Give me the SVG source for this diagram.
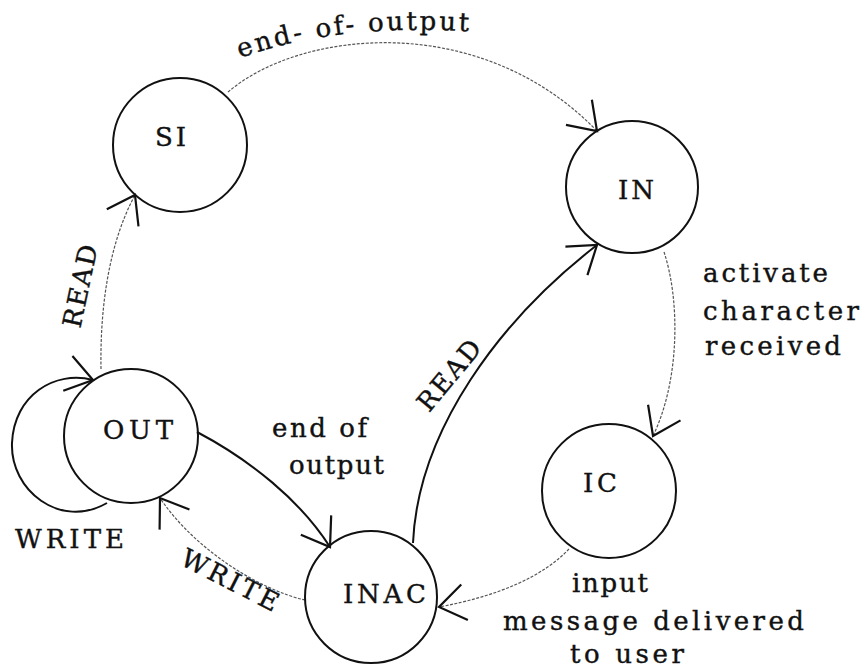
<svg xmlns="http://www.w3.org/2000/svg" width="861" height="669" viewBox="0 0 861 669">
<style>
.bg{fill:#fff}
.node{fill:none;stroke:#111;stroke-width:2}
.lbl{font-family:"DejaVu Serif","Liberation Serif",serif;font-size:26px;fill:#111;stroke:#111;stroke-width:0.4}
.nlbl{font-family:"DejaVu Serif","Liberation Serif",serif;font-size:26px;fill:#111;stroke:#111;stroke-width:0.4}
.solid{fill:none;stroke:#111;stroke-width:2;marker-end:url(#arr)}
.faint{fill:none;stroke:#555;stroke-width:1.2;stroke-dasharray:3 1.5;marker-end:url(#arr)}
</style>
<defs>
<marker id="arr" markerUnits="userSpaceOnUse" markerWidth="40" markerHeight="40" viewBox="-35 -20 40 40" refX="0" refY="0" orient="auto" overflow="visible">
<path d="M -26 -18 L 0 0 L -26 18" fill="none" stroke="#111" stroke-width="2.2"/>
</marker>
<path id="topArc" d="M 240 58 Q 340 22 478 32"/>
</defs>
<rect class="bg" x="0" y="0" width="861" height="669"/>

<g id="connectors">
<path id="e-si-in" class="faint" d="M 228 92 C 300 30, 480 10, 597 131"/>
<path id="e-in-ic" class="faint" d="M 664 252 C 680 300, 680 380, 653 436"/>
<path id="e-ic-inac" class="faint" d="M 569 549 Q 530 590 439 607"/>
<path id="e-inac-in" class="solid" d="M 413 543 C 418 430, 500 320, 597 245"/>
<path id="e-out-si" class="faint" d="M 101 369 C 100 310, 108 245, 135 195"/>
<path id="e-out-inac" class="solid" d="M 197 432 C 250 460, 300 500, 330 547"/>
<path id="e-inac-out" class="faint" d="M 305 600 C 260 590, 195 550, 160 498"/>
<path id="e-out-loop" class="solid" d="M 107 503 C 60 530, 10 490, 12 443 C 14 395, 55 370, 93 380"/>
</g>

<g id="edge-labels">
<text class="lbl"><textPath href="#topArc" textLength="232" lengthAdjust="spacing">end- of- output</textPath></text>
<text class="lbl" transform="translate(89 288) rotate(-78)" text-anchor="middle" textLength="84" lengthAdjust="spacing">READ</text>
<text class="lbl" transform="translate(456 381) rotate(-50)" text-anchor="middle" textLength="84" lengthAdjust="spacing">READ</text>
<text class="lbl" transform="translate(226 588) rotate(27)" text-anchor="middle" textLength="106" lengthAdjust="spacing">WRITE</text>
<text class="lbl" x="15" y="548" textLength="109" lengthAdjust="spacing">WRITE</text>
<text class="lbl" x="272" y="437" textLength="95" lengthAdjust="spacing">end of</text>
<text class="lbl" x="289" y="474" textLength="95" lengthAdjust="spacing">output</text>
<text class="lbl" x="703" y="282" textLength="125" lengthAdjust="spacing">activate</text>
<text class="lbl" x="703" y="320" textLength="156" lengthAdjust="spacing">character</text>
<text class="lbl" x="705" y="355" textLength="136" lengthAdjust="spacing">received</text>
<text class="lbl" x="572" y="592" textLength="76" lengthAdjust="spacing">input</text>
<text class="lbl" x="503" y="630" textLength="301" lengthAdjust="spacing">message delivered</text>
<text class="lbl" x="570" y="663" textLength="114" lengthAdjust="spacing">to user</text>
</g>

<g id="SI"><circle class="node" cx="180" cy="145" r="67"/><text class="nlbl" x="155" y="146" textLength="31" lengthAdjust="spacing">SI</text></g>
<g id="IN"><circle class="node" cx="632" cy="187" r="66"/><text class="nlbl" x="618" y="199" textLength="36" lengthAdjust="spacing">IN</text></g>
<g id="OUT"><circle class="node" cx="131" cy="436" r="67"/><text class="nlbl" x="103" y="439" textLength="70" lengthAdjust="spacing">OUT</text></g>
<g id="IC"><circle class="node" cx="609" cy="491" r="67"/><text class="nlbl" x="583" y="492" textLength="34" lengthAdjust="spacing">IC</text></g>
<g id="INAC"><circle class="node" cx="371" cy="597" r="66"/><text class="nlbl" x="343" y="603" textLength="83" lengthAdjust="spacing">INAC</text></g>
</svg>
